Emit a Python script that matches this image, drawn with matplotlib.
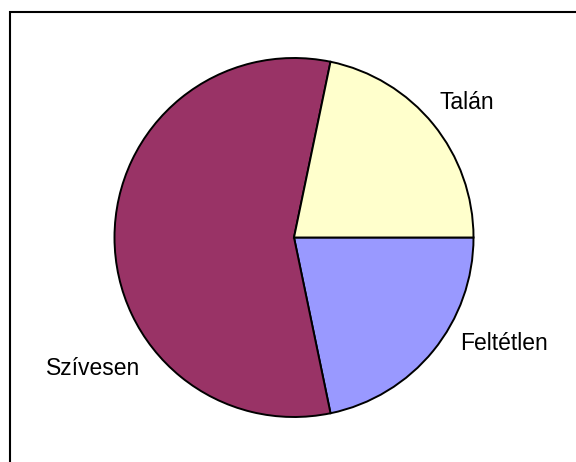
import matplotlib
matplotlib.use("Agg")
import matplotlib.pyplot as plt
from matplotlib.patches import Rectangle

# answers and counts
labels = ["Feltétlen", "Szívesen", "Talán"]
values = [10, 26, 10]
colors = ["#9999FF", "#993366", "#FFFFCC"]

# label anchors (left edge, baseline) in pie radius units
label_pos = [(0.925, -0.627), (-1.382, -0.766), (0.813, 0.716)]

plt.rcParams["font.family"] = ["Liberation Sans", "DejaVu Sans"]

fig = plt.figure(figsize=(5.76, 4.62), dpi=100)
ax = fig.add_axes([114.5 / 576, 45 / 462, 359 / 576, 359 / 462])

wedges, texts = ax.pie(values, colors=colors, startangle=0, counterclock=False,
                       radius=1.0, labels=labels,
                       wedgeprops=dict(edgecolor="black", linewidth=1.4))
for t, (x, y) in zip(texts, label_pos):
    t.set_position((x, y))
    t.set_ha("left")
    t.set_va("baseline")
    t.set_fontsize(16.5)
    t.set_clip_on(False)

ax.set_xlim(-1, 1)
ax.set_ylim(-1, 1)
ax.set_aspect("equal")
ax.axis("off")

# outer chart frame (cropped at right and bottom)
fig.patches.append(Rectangle((10 / 576, -0.1), 1.2, (462 - 12) / 462 + 0.1,
                             transform=fig.transFigure, fill=False,
                             edgecolor="black", linewidth=1.5))

fig.savefig("out.png", dpi=100)
